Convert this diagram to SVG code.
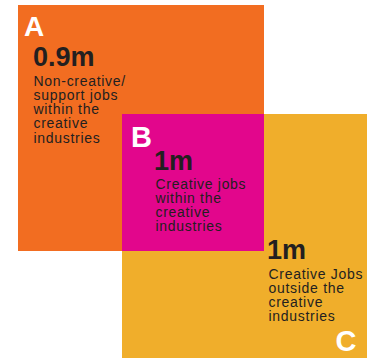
<svg xmlns="http://www.w3.org/2000/svg" width="367" height="358" viewBox="0 0 367 358">
  <style>
    .letter { font-family: "Liberation Sans", Arial, sans-serif; font-weight: bold; fill: #ffffff; }
    .num { font-family: "Liberation Sans", Arial, sans-serif; font-weight: bold; font-size: 27px; fill: #231F20; }
    .body { font-family: "Liberation Sans", Arial, sans-serif; font-size: 14px; letter-spacing: 0.7px; fill: #231F20; }
  </style>
  <rect width="367" height="358" fill="#ffffff"/>
  <g id="region-A">
    <rect x="18" y="5" width="246" height="246" fill="#F26D21"/>
  </g>
  <g id="region-C">
    <rect x="122" y="114" width="245" height="244" fill="#F0AE2B"/>
  </g>
  <g id="region-B">
    <rect x="122" y="114" width="142" height="137" fill="#E2068C"/>
  </g>
  <g id="label-A">
    <text class="letter" x="24" y="36" font-size="28">A</text>
    <text class="num" x="33" y="66">0.9m</text>
    <text class="body">
      <tspan x="33.5" y="85.5">Non-creative/</tspan>
      <tspan x="33.5" y="99.8">support jobs</tspan>
      <tspan x="33.5" y="114.1">within the</tspan>
      <tspan x="33.5" y="128.4">creative</tspan>
      <tspan x="33.5" y="142.7">industries</tspan>
    </text>
  </g>
  <g id="label-B">
    <text class="letter" x="131" y="146.7" font-size="29">B</text>
    <text class="num" x="154" y="170">1m</text>
    <text class="body">
      <tspan x="155.5" y="188.5">Creative jobs</tspan>
      <tspan x="155.5" y="202.8">within the</tspan>
      <tspan x="155.5" y="217.1">creative</tspan>
      <tspan x="155.5" y="231.4">industries</tspan>
    </text>
  </g>
  <g id="label-C">
    <text class="letter" x="335.5" y="350.5" font-size="29">C</text>
    <text class="num" x="267" y="259">1m</text>
    <text class="body">
      <tspan x="268.5" y="278.5">Creative Jobs</tspan>
      <tspan x="268.5" y="292.8">outside the</tspan>
      <tspan x="268.5" y="307.1">creative</tspan>
      <tspan x="268.5" y="321.4">industries</tspan>
    </text>
  </g>
  <g id="connectors"></g>
</svg>
